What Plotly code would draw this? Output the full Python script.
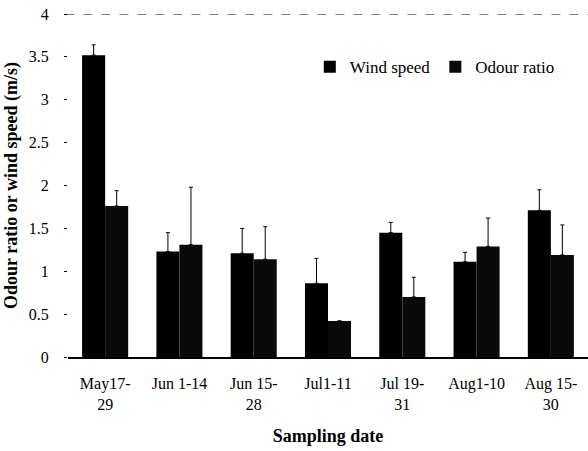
import plotly.graph_objects as go

categories = ["May17-<br>29", "Jun 1-14", "Jun 15-<br>28", "Jul1-11", "Jul 19-<br>31", "Aug1-10", "Aug 15-<br>30"]
wind_speed = [3.52, 1.23, 1.21, 0.86, 1.45, 1.11, 1.71]
wind_err = [0.12, 0.22, 0.29, 0.29, 0.12, 0.11, 0.24]
odour_ratio = [1.76, 1.31, 1.14, 0.42, 0.70, 1.29, 1.19]
odour_err = [0.18, 0.67, 0.38, 0.0, 0.23, 0.33, 0.35]
y_ticks = [0, 0.5, 1, 1.5, 2, 2.5, 3, 3.5, 4]
y_tick_labels = ["0", "0.5", "1", "1.5", "2", "2.5", "3", "3.5", "4"]

font_family = "Liberation Serif"

fig = go.Figure()
fig.add_trace(go.Bar(
    x=categories, y=wind_speed, name="Wind speed",
    marker=dict(color="black", line=dict(width=0)),
    error_y=dict(type="data", array=wind_err, arrayminus=[0]*len(wind_err), symmetric=False,
                 color="black", thickness=1, width=2),
))
fig.add_trace(go.Bar(
    x=categories, y=odour_ratio, name="Odour ratio",
    marker=dict(color="#0a0a0a", line=dict(width=0)),
    error_y=dict(type="data", array=odour_err, arrayminus=[0]*len(odour_err), symmetric=False,
                 color="black", thickness=1, width=2),
))

fig.add_shape(type="line", xref="paper", yref="y", x0=-0.005, x1=1, y0=4, y1=4,
              line=dict(color="black", width=1, dash="dash"))

fig.update_layout(
    width=588, height=451,
    margin=dict(l=68, r=0, t=14, b=94),
    paper_bgcolor="white", plot_bgcolor="white",
    barmode="group", bargap=0.38, bargroupgap=0,
    font=dict(family=font_family, color="black", size=16),
    showlegend=True,
    legend=dict(orientation="h", x=0.465, y=0.845, xanchor="left", yanchor="middle",
                font=dict(family=font_family, size=17, color="black"),
                bgcolor="rgba(0,0,0,0)", itemwidth=30, tracegroupgap=0),
    xaxis=dict(showline=True, linecolor="black", linewidth=2, ticks="",
               tickfont=dict(family=font_family, size=16, color="black"),
               ticklabelstandoff=11,
               title=dict(text="<b>Sampling date</b>", font=dict(family=font_family, size=18), standoff=17),
               showgrid=False, zeroline=False),
    yaxis=dict(range=[0, 4], tickvals=y_ticks, ticktext=y_tick_labels,
               showline=False, ticks="outside", ticklen=3, tickcolor="black",
               tickfont=dict(family=font_family, size=16, color="black"),
               ticklabelstandoff=12,
               showgrid=False, zeroline=False,
               title=dict(text="<b>Odour ratio or wind speed (m/s)</b>", font=dict(family=font_family, size=18), standoff=6)),
)

fig.write_html("out.html")
